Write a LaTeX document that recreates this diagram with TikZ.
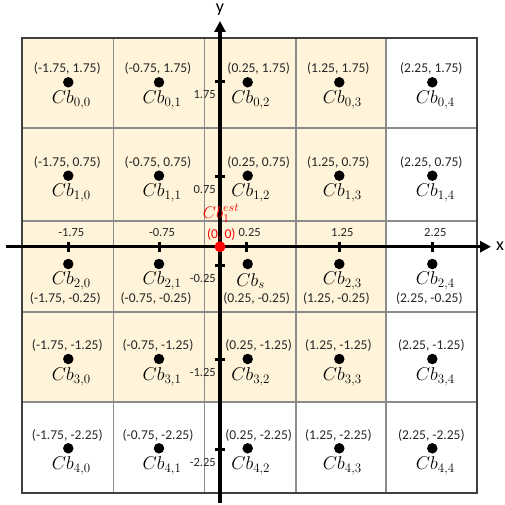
\RequirePackage{fix-cm}
\documentclass[tikz,border=0pt]{standalone}
\usepackage{fontspec}
\setmainfont{Carlito}
\usetikzlibrary{arrows.meta,calc}
\definecolor{cream}{HTML}{FFF3DA}
\definecolor{gridgray}{HTML}{8C8C8C}
\definecolor{boxdark}{HTML}{404040}
\begin{document}
\begin{tikzpicture}[x=1pt,y=-1pt,
  gridline/.style={draw=gridgray,line width=1.6pt},
  outerbox/.style={draw=boxdark,line width=2.2pt},
  axisline/.style={line width=3.4pt,-{Triangle[length=11pt,width=11pt]}},
  tickmark/.style={line width=3pt},
  dotnode/.style={circle,fill=black,inner sep=0pt,minimum size=10.5pt},
  cblbl/.style={inner sep=0pt,font=\fontsize{18.5}{20}\selectfont},
  crdlbl/.style={inner sep=0pt,text=black!85,font=\fontsize{13.5}{15}\selectfont},
  ticklbl/.style={inner sep=0pt,text=black!85,font=\fontsize{12.5}{14}\selectfont},
  axislbl/.style={inner sep=0pt,font=\fontsize{18}{20}\selectfont}]
\useasboundingbox (0,0) rectangle (505,505);
% background
\fill[cream] (22,38.3) rectangle (386,401.7);
\foreach \x in {113.3,204.3,295.7,386} \draw[gridline] (\x,38.3) -- (\x,492.7);
\foreach \y in {128.3,220.7,311.7,401.7} \draw[gridline] (22,\y) -- (476.7,\y);
\draw[outerbox] (22,38.3) rectangle (476.7,492.7);
% axes
\coordinate (xs) at (6,246.7);
\coordinate (xe) at (491,246.7);
\coordinate (ys) at (220,503);
\coordinate (ye) at (220,21);
\draw[axisline] (xs) -- (xe);
\draw[axisline] (ys) -- (ye);
\node[axislbl] (xl) at (500,246.7) {x};
\node[axislbl] (yl) at (220,10) {y};
% x ticks
\foreach \x/\t in {68.3/-1.75,159/-0.75,246.7/0.25,339.3/1.25,432.3/2.25}{
  \draw[tickmark] (\x,242) -- (\x,251.5);
  \node[ticklbl] at (\x+3,232.7) {\t};
}
% y ticks
\foreach \y/\t in {81.7/1.75,176.7/0.75,265.7/-0.25,359/-1.25,449/-2.25}{
  \draw[tickmark] (214.5,\y) -- (225,\y);
  \node[ticklbl,anchor=east] at (216,\y+13) {\t};
}
% grid points
\foreach \r/\yv/\ys in {0/82.3/1.75,1/175.7/0.75,2/264/-0.25,3/359/-1.25,4/448.3/-2.25}{
  \foreach \c/\xv/\xs in {0/68.3/-1.75,1/159/-0.75,2/247.7/0.25,3/339.3/1.25,4/432.3/2.25}{
    \node[dotnode] (d\r\c) at (\xv,\yv) {};
    \pgfmathsetmacro\dx{\c==2 ? 11 : -1}
    \ifnum\r=2
      \node[cblbl] (cb\r\c) at ($(d\r\c)+(3,17)$) {\ifnum\c=2 $Cb_{s}$\else $Cb_{\r,\c}$\fi};
      \node[crdlbl] (co\r\c) at ($(d\r\c)+(\dx-2,34)$) {(\xs, \ys)};
    \else
      \node[cblbl] (cb\r\c) at ($(d\r\c)+(3,17.5)$) {$Cb_{\r,\c}$};
      \node[crdlbl] (co\r\c) at ($(d\r\c)+(\dx,-13.3)$) {(\xs, \ys)};
    \fi
  }
}
% estimated point
\node[circle,fill=red,inner sep=0pt,minimum size=11pt] (est) at (220,246.7) {};
\node[inner sep=0pt,text=red,font=\fontsize{17}{18}\selectfont] (estl) at (221,213.5) {$Cb_1^{est}$};
\node[crdlbl,text=red] (estc) at (221.3,234) {(0, 0)};
\end{tikzpicture}
\end{document}
